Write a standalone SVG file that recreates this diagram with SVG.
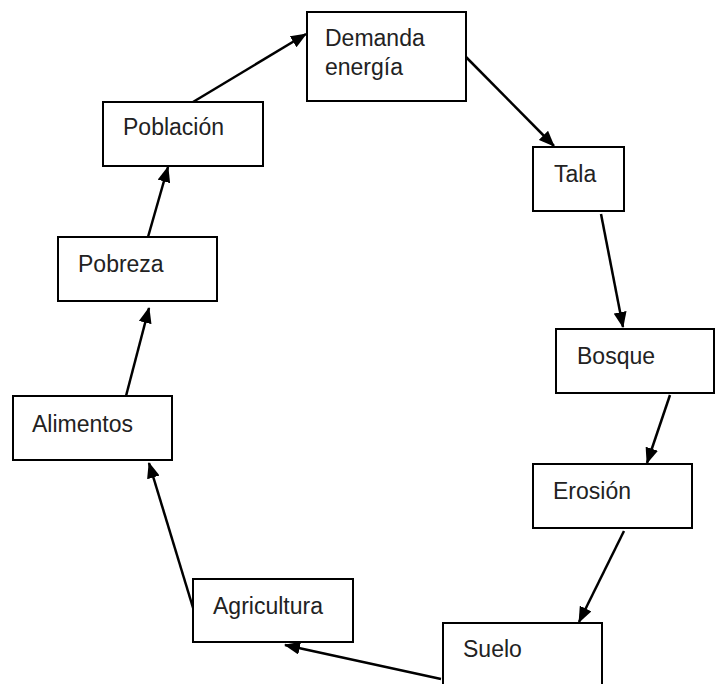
<svg xmlns="http://www.w3.org/2000/svg" width="723" height="684" viewBox="0 0 723 684">
  <style>
    .box { fill: #ffffff; stroke: #000000; stroke-width: 2; }
    .lbl { font-family: "Liberation Sans", Arial, sans-serif; font-size: 23px; fill: #222222; }
    .link { stroke: #000000; stroke-width: 2.5; fill: none; marker-end: url(#head); }
  </style>
  <defs>
    <marker id="head" viewBox="0 0 16 13" refX="15" refY="6.5" markerWidth="16" markerHeight="13" markerUnits="userSpaceOnUse" orient="auto">
      <path d="M0,0 L16,6.5 L0,13 Z" fill="#000000"/>
    </marker>
  </defs>

  <rect width="723" height="684" fill="#ffffff"/>

  <g id="connectors">
    <line class="link" x1="193" y1="102" x2="306" y2="34"/>
    <line class="link" x1="466" y1="57" x2="554" y2="146"/>
    <line class="link" x1="601" y1="214" x2="623" y2="327"/>
    <line class="link" x1="670" y1="395" x2="647" y2="463"/>
    <line class="link" x1="624" y1="531" x2="579" y2="622"/>
    <line class="link" x1="441" y1="679" x2="285" y2="645"/>
    <line class="link" x1="194" y1="611" x2="149" y2="463"/>
    <line class="link" x1="126" y1="396" x2="149" y2="308"/>
    <line class="link" x1="148" y1="237" x2="168" y2="167"/>
  </g>

  <g id="demanda-energia">
    <rect class="box" x="307" y="12" width="159" height="89"/>
    <text class="lbl" x="325" y="46">Demanda</text>
    <text class="lbl" x="325" y="75">energía</text>
  </g>
  <g id="tala">
    <rect class="box" x="533" y="147" width="91" height="64"/>
    <text class="lbl" x="554" y="182">Tala</text>
  </g>
  <g id="bosque">
    <rect class="box" x="556" y="329" width="158" height="64"/>
    <text class="lbl" x="577" y="364">Bosque</text>
  </g>
  <g id="erosion">
    <rect class="box" x="533" y="464" width="159" height="64"/>
    <text class="lbl" x="553" y="499">Erosión</text>
  </g>
  <g id="suelo">
    <rect class="box" x="443" y="623" width="159" height="80"/>
    <text class="lbl" x="463" y="657">Suelo</text>
  </g>
  <g id="agricultura">
    <rect class="box" x="193" y="579" width="160" height="63"/>
    <text class="lbl" x="213" y="614">Agricultura</text>
  </g>
  <g id="alimentos">
    <rect class="box" x="13" y="396" width="159" height="64"/>
    <text class="lbl" x="32" y="432">Alimentos</text>
  </g>
  <g id="pobreza">
    <rect class="box" x="58" y="237" width="159" height="64"/>
    <text class="lbl" x="78" y="272">Pobreza</text>
  </g>
  <g id="poblacion">
    <rect class="box" x="103" y="102" width="160" height="64"/>
    <text class="lbl" x="123" y="135">Población</text>
  </g>
</svg>
